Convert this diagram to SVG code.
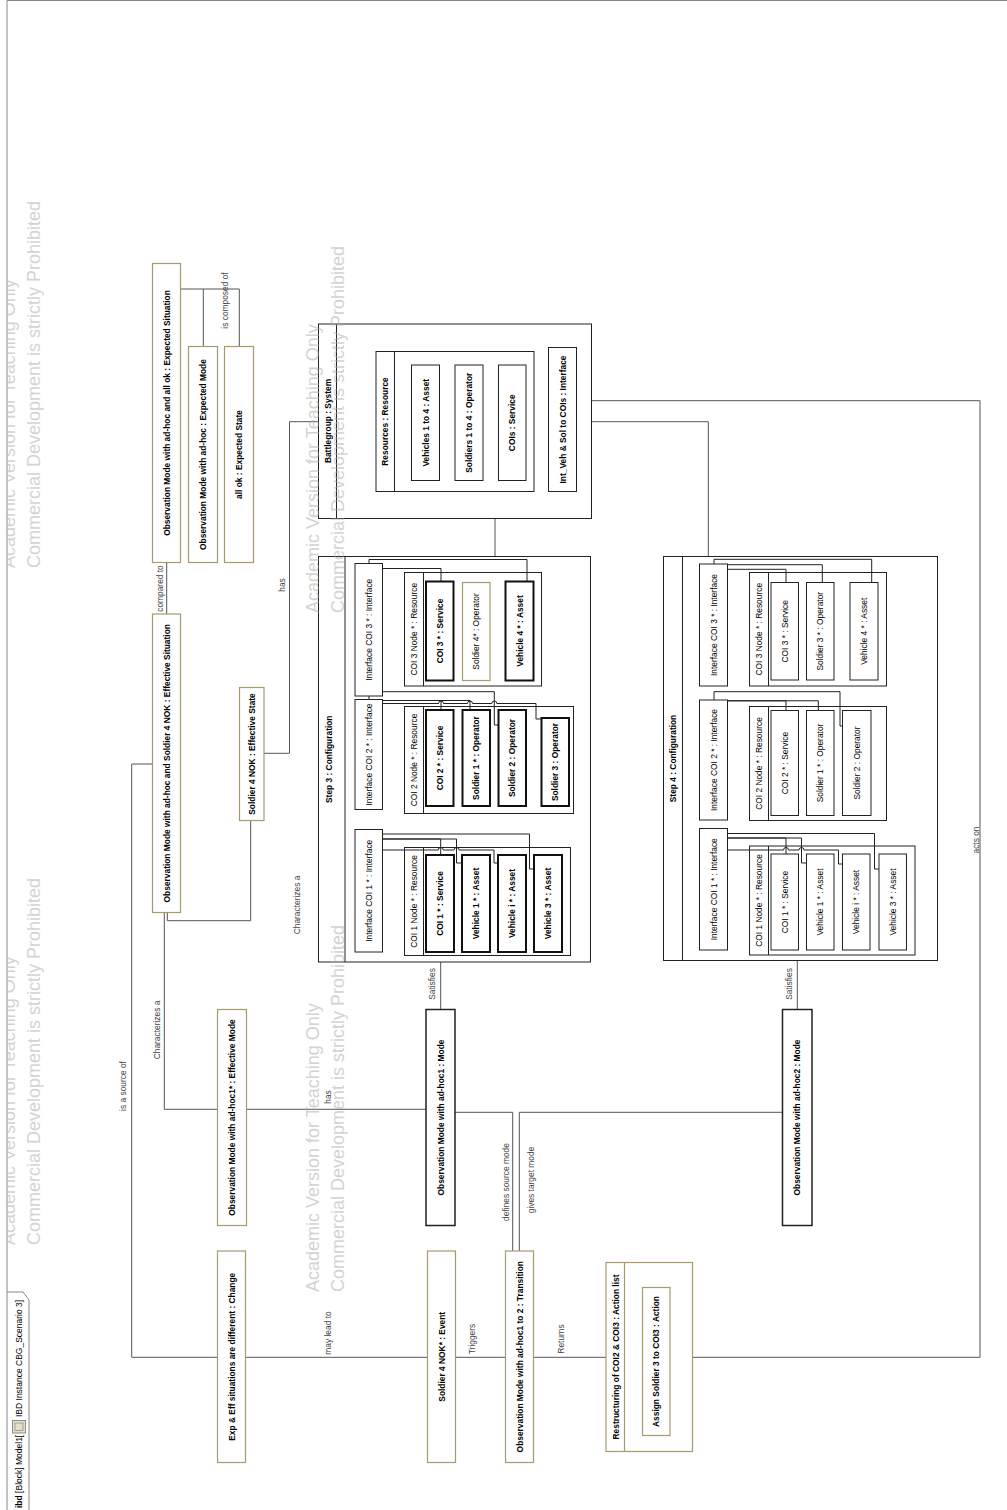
<svg xmlns="http://www.w3.org/2000/svg" width="1007" height="1510" viewBox="0 0 1007 1510">
<defs>
<style>
.t{font-family:"Liberation Sans",Arial,sans-serif;font-size:8.4px;text-anchor:middle;dominant-baseline:central;fill:#000}
.b{font-weight:bold}
.lbl{fill:#444}
.ol{fill:#fff;stroke:#a79a6c;stroke-width:1.2}
.bk{fill:#fff;stroke:#222;stroke-width:1}
.bx{fill:none;stroke:#222;stroke-width:1}
.bb{fill:#fff;stroke:#111;stroke-width:2}
.dk{fill:#fff;stroke:#222;stroke-width:1.5}
.dv{stroke:#222;stroke-width:1;fill:none}
.c{fill:none;stroke:#555;stroke-width:1}
.ci{fill:none;stroke:#222;stroke-width:1}
.wm{font-family:"Liberation Sans",Arial,sans-serif;font-size:18px;fill:#a8a8a8;opacity:.5}
.fr{fill:none;stroke:#888;stroke-width:1}
.tt{font-family:"Liberation Sans",Arial,sans-serif;font-size:8.5px;fill:#000;dominant-baseline:central}
</style>
<clipPath id="fc"><rect x="7.5" y="0" width="1000" height="1510"/></clipPath>
</defs>
<rect x="0" y="0" width="1007" height="1510" fill="#fff"/>
<g id="frame">
<path class="fr" d="M7,1510 V0.5 H1007"/>
<path class="fr" d="M7,1292 H23 L29,1300 V1510"/>
<text class="tt" transform="translate(19,1508) rotate(-90)"><tspan font-weight="bold">ibd</tspan> [Block] Model1[</text>
<rect x="12.5" y="1420.5" width="13" height="12.5" fill="#e6e0c6" stroke="#777" stroke-width="0.8"/>
<rect x="15" y="1423" width="8" height="7.5" fill="none" stroke="#777" stroke-width="0.6"/>
<text class="tt" transform="translate(19,1417) rotate(-90)">IBD Instance CBG_Scenario 3]</text>
</g>
<g id="connectors">
<path class="c" d="M180.7,289 H239.3 V346.5"/>
<path class="c" d="M203.3,289 V346.5"/>
<path class="c" d="M166.7,562.5 V614"/>
<path class="c" d="M167.3,912.5 V920.7 H250.7 V820.5"/>
<path class="c" d="M264,753.3 H289.5 V421.7 H318.5"/>
<path class="c" d="M164.3,912.5 V1109.3 H426"/>
<path class="c" d="M152.5,764 H131.7 V1357.3 H217.5"/>
<path class="c" d="M245.5,1357.3 H427.5"/>
<path class="c" d="M455.5,1357.3 H505.5"/>
<path class="c" d="M533.5,1357.3 H606"/>
<path class="c" d="M692.5,1357.3 H980 V400.7 H591.5"/>
<path class="c" d="M495,518.5 V556.5"/>
<path class="c" d="M591.5,421.7 H708.3 V556.5"/>
<path class="c" d="M440.7,962 V1009.5"/>
<path class="c" d="M797.3,960.5 V1009.5"/>
<path class="c" d="M455,1112.3 H512.7 V1251"/>
<path class="c" d="M519.3,1251 V1112.3 H782.5"/>
<text class="t lbl" transform="translate(225,300.5) rotate(-90)">is composed of</text>
<text class="t lbl" transform="translate(159.5,588.5) rotate(-90)">compared to</text>
<text class="t lbl" transform="translate(282,585) rotate(-90)">has</text>
<text class="t lbl" transform="translate(296.5,905) rotate(-90)">Characterizes a</text>
<text class="t lbl" transform="translate(157,1030) rotate(-90)">Characterizes a</text>
<text class="t lbl" transform="translate(123.3,1086) rotate(-90)">is a source of</text>
<text class="t lbl" transform="translate(328,1097) rotate(-90)">has</text>
<text class="t lbl" transform="translate(432.3,984) rotate(-90)">Satisfies</text>
<text class="t lbl" transform="translate(789.3,984) rotate(-90)">Satisfies</text>
<text class="t lbl" transform="translate(506,1182) rotate(-90)">defines source mode</text>
<text class="t lbl" transform="translate(530.7,1180) rotate(-90)">gives target mode</text>
<text class="t lbl" transform="translate(328.3,1333) rotate(-90)">may lead to</text>
<text class="t lbl" transform="translate(471.7,1339) rotate(-90)">Triggers</text>
<text class="t lbl" transform="translate(561,1339) rotate(-90)">Returns</text>
<text class="t lbl" transform="translate(976,840) rotate(-90)">acts on</text>
</g>
<g id="n-expected-situation"><rect class="ol" x="152.5" y="263.5" width="28" height="299"/><text class="t b" transform="translate(166.5,413) rotate(-90)">Observation Mode with ad-hoc and all ok : Expected Situation</text></g>
<g id="n-expected-mode"><rect class="ol" x="188.5" y="346.5" width="29" height="216"/><text class="t b" transform="translate(203,454.5) rotate(-90)">Observation Mode with ad-hoc : Expected Mode</text></g>
<g id="n-expected-state"><rect class="ol" x="224.5" y="346.5" width="29" height="216"/><text class="t b" transform="translate(239,454.5) rotate(-90)">all ok : Expected State</text></g>
<g id="n-effective-situation"><rect class="ol" x="152.5" y="614" width="28" height="298.5"/><text class="t b" transform="translate(166.5,763.25) rotate(-90)">Observation Mode with ad-hoc and Soldier 4 NOK : Effective Situation</text></g>
<g id="n-effective-state"><rect class="ol" x="239.5" y="687.5" width="24.5" height="133"/><text class="t b" transform="translate(251.75,754) rotate(-90)">Soldier 4 NOK : Effective State</text></g>
<g id="n-effective-mode"><rect class="ol" x="217.5" y="1009.5" width="29" height="216"/><text class="t b" transform="translate(232,1117.5) rotate(-90)">Observation Mode with ad-hoc1* : Effective Mode</text></g>
<g id="n-mode1"><rect class="dk" x="426" y="1009.5" width="29" height="216"/><text class="t b" transform="translate(440.5,1117.5) rotate(-90)">Observation Mode with ad-hoc1 : Mode</text></g>
<g id="n-mode2"><rect class="dk" x="782.5" y="1009.5" width="29.5" height="216"/><text class="t b" transform="translate(797.25,1117.5) rotate(-90)">Observation Mode with ad-hoc2 : Mode</text></g>
<g id="n-change"><rect class="ol" x="217.5" y="1251" width="28" height="211.5"/><text class="t b" transform="translate(231.5,1356.75) rotate(-90)">Exp &amp; Eff situations are different : Change</text></g>
<g id="n-event"><rect class="ol" x="427.5" y="1251" width="28" height="211.5"/><text class="t b" transform="translate(441.5,1356.75) rotate(-90)">Soldier 4 NOK* : Event</text></g>
<g id="n-transition"><rect class="ol" x="505.5" y="1251" width="28" height="211.5"/><text class="t b" transform="translate(519.5,1356.75) rotate(-90)">Observation Mode with ad-hoc1 to 2 : Transition</text></g>
<g id="n-action-list"><rect class="ol" x="606" y="1262.5" width="86.5" height="189"/><path d="M624.5,1262.5 V1451.5" stroke="#a79a6c" stroke-width="1.2"/><text class="t b" transform="translate(615.5,1357) rotate(-90)">Restructuring of COI2 &amp; COI3 : Action list</text>
<g id="n-action"><rect class="ol" x="642.5" y="1287.5" width="27.5" height="148"/><text class="t b" transform="translate(656.25,1361.5) rotate(-90)">Assign Soldier 3 to COI3 : Action</text></g></g>
<g id="n-battlegroup"><rect class="bx" x="318.5" y="324" width="273" height="194.5"/><path class="dv" d="M336.5,324 V518.5"/><text class="t b" transform="translate(327.5,421) rotate(-90)">Battlegroup : System</text>
<g id="n-resources"><rect class="bx" x="376" y="351.5" width="158" height="140"/><path class="dv" d="M394.5,351.5 V491.5"/><text class="t b" transform="translate(385.3,421.5) rotate(-90)">Resources : Resource</text>
<g id="n-vehicles"><rect class="bk" x="411.5" y="365" width="28" height="115.5"/><text class="t b" transform="translate(425.5,422.75) rotate(-90)">Vehicles 1 to 4 : Asset</text></g>
<g id="n-soldiers"><rect class="bk" x="455" y="365" width="28" height="115.5"/><text class="t b" transform="translate(469,422.75) rotate(-90)">Soldiers 1 to 4 : Operator</text></g>
<g id="n-cois"><rect class="bk" x="498.5" y="365" width="27.5" height="115.5"/><text class="t b" transform="translate(512.25,422.75) rotate(-90)">COIs : Service</text></g></g>
<g id="n-int-veh"><rect class="bk" x="548.5" y="347.5" width="28" height="144"/><text class="t b" transform="translate(562.5,419.5) rotate(-90)">Int_Veh &amp; Sol to COIs : Interface</text></g></g>
<g id="n-step3"><rect class="bx" x="318.5" y="556.5" width="272" height="405.5"/><path class="dv" d="M345,556.5 V962"/><text class="t b" transform="translate(328.5,759.25) rotate(-90)">Step 3 : Configuration</text>
<rect class="bx" x="404.5" y="572.5" width="137" height="113.5"/><path class="dv" d="M423.5,572.5 V686"/><text class="t" transform="translate(413.8,629.25) rotate(-90)">COI 3 Node * : Resource</text>
<rect class="bx" x="404.5" y="706.5" width="169" height="107"/><path class="dv" d="M423.5,706.5 V813.5"/><text class="t" transform="translate(413.8,760) rotate(-90)">COI 2 Node * : Resource</text>
<rect class="bx" x="404.5" y="847.5" width="166" height="108"/><path class="dv" d="M423.5,847.5 V955.5"/><text class="t" transform="translate(413.8,901.5) rotate(-90)">COI 1 Node * : Resource</text>
<g id="s3-connectors">
<path class="ci" d="M369,563.5 V559.5 H527 V581.5"/>
<path class="ci" d="M382.5,568.5 H441 V581.5"/>
<path class="ci" d="M369,699.5 V691.7 H494.3 V725 H498.5"/>
<path class="ci" d="M382.5,700.5 H441 V710"/>
<path class="ci" d="M382.5,700.5 H470 V710"/>
<path class="ci" d="M382.5,703.5 H438.5 a2.5,2.5 0 0 1 5,0 H467.5 a2.5,2.5 0 0 1 5,0 H491.8 a2.5,2.5 0 0 1 5,0 H536 V719 H541.5"/>
<path class="ci" d="M382.5,834 H529.5 V869 H534"/>
<path class="ci" d="M382.5,839 H440.7 V855"/>
<path class="ci" d="M382.5,839 H456.5 V863 H462"/>
<path class="ci" d="M382.5,850 H438.2 a2.5,2.5 0 0 1 5,0 H454 a2.5,2.5 0 0 1 5,0 H494 V863 H498"/>
</g>
<g id="s3-int-coi3"><rect class="bk" x="355" y="563.5" width="27.5" height="132.5"/><text class="t" transform="translate(368.75,629.75) rotate(-90)">Interface COI 3 * : Interface</text></g>
<g id="s3-coi3-service"><rect class="bb" x="426" y="581.5" width="27.5" height="99"/><text class="t b" transform="translate(439.75,631) rotate(-90)">COI 3 * : Service</text></g>
<g id="s3-soldier4"><rect class="ol" x="462.5" y="582.5" width="27.5" height="98"/><text class="t" transform="translate(476.25,631.5) rotate(-90)">Soldier 4* : Operator</text></g>
<g id="s3-vehicle4"><rect class="bb" x="505.5" y="581.5" width="28" height="99"/><text class="t b" transform="translate(519.5,631) rotate(-90)">Vehicle 4 * : Asset</text></g>
<g id="s3-int-coi2"><rect class="bk" x="355" y="699.5" width="27.5" height="110"/><text class="t" transform="translate(368.75,754.5) rotate(-90)">Interface COI 2 * : Interface</text></g>
<g id="s3-coi2-service"><rect class="bb" x="426" y="710" width="27.5" height="96"/><text class="t b" transform="translate(439.75,758) rotate(-90)">COI 2 * : Service</text></g>
<g id="s3-soldier1"><rect class="bb" x="462.5" y="710" width="27.5" height="96"/><text class="t b" transform="translate(476.25,758) rotate(-90)">Soldier 1 * : Operator</text></g>
<g id="s3-soldier2"><rect class="bb" x="498.5" y="710" width="27.5" height="96"/><text class="t b" transform="translate(512.25,758) rotate(-90)">Soldier 2 : Operator</text></g>
<g id="s3-soldier3"><rect class="bb" x="541.5" y="718" width="27.5" height="88"/><text class="t b" transform="translate(555.25,762) rotate(-90)">Soldier 3 : Operator</text></g>
<g id="s3-int-coi1"><rect class="bk" x="355" y="829.5" width="27.5" height="122.5"/><text class="t" transform="translate(368.75,890.75) rotate(-90)">Interface COI 1 * : Interface</text></g>
<g id="s3-coi1-service"><rect class="bb" x="426" y="855" width="28" height="97"/><text class="t b" transform="translate(440,903.5) rotate(-90)">COI 1 * : Service</text></g>
<g id="s3-vehicle1"><rect class="bb" x="462" y="855" width="28" height="97"/><text class="t b" transform="translate(476,903.5) rotate(-90)">Vehicle 1 * : Asset</text></g>
<g id="s3-vehiclei"><rect class="bb" x="498" y="855" width="28" height="97"/><text class="t b" transform="translate(512,903.5) rotate(-90)">Vehicle i * : Asset</text></g>
<g id="s3-vehicle3"><rect class="bb" x="534" y="855" width="28" height="97"/><text class="t b" transform="translate(548,903.5) rotate(-90)">Vehicle 3 * : Asset</text></g>
</g>
<g id="n-step4"><rect class="bx" x="663.5" y="556.5" width="274" height="404"/><path class="dv" d="M682.5,556.5 V960.5"/><text class="t b" transform="translate(673.3,758.5) rotate(-90)">Step 4 : Configuration</text>
<rect class="bx" x="749.5" y="572.5" width="137" height="113.5"/><path class="dv" d="M768.5,572.5 V686"/><text class="t" transform="translate(758.5,629.25) rotate(-90)">COI 3 Node * : Resource</text>
<rect class="bx" x="749.5" y="706.5" width="137" height="114"/><path class="dv" d="M768.5,706.5 V820.5"/><text class="t" transform="translate(758.5,763.5) rotate(-90)">COI 2 Node * : Resource</text>
<rect class="bx" x="749.5" y="846" width="165.5" height="109"/><path class="dv" d="M768.5,846 V955"/><text class="t" transform="translate(758.5,900.5) rotate(-90)">COI 1 Node * : Resource</text>
<g id="s4-connectors">
<path class="ci" d="M714,564 V559.3 H871.7 V582.5"/>
<path class="ci" d="M727.5,564.7 H822.3 V582.5"/>
<path class="ci" d="M727.5,569.3 H786 V582.5"/>
<path class="ci" d="M714,700 V691.7 H840 V726 H842.5"/>
<path class="ci" d="M727.5,700.8 H786 V710.5"/>
<path class="ci" d="M727.5,700.8 H818.3 V710.5"/>
<path class="ci" d="M727.5,833.5 H874.5 V869 H879"/>
<path class="ci" d="M727.5,838 H786 V854"/>
<path class="ci" d="M727.5,838 H801.5 V863 H806.5"/>
<path class="ci" d="M727.5,850 H783.5 a2.5,2.5 0 0 1 5,0 H799 a2.5,2.5 0 0 1 5,0 H838.5 V864 H842.5"/>
</g>
<g id="s4-int-coi3"><rect class="bk" x="699.5" y="564" width="28" height="122"/><text class="t" transform="translate(713.5,625) rotate(-90)">Interface COI 3 * : Interface</text></g>
<g id="s4-coi3-service"><rect class="bk" x="771" y="582.5" width="27.5" height="97.5"/><text class="t" transform="translate(784.75,631.25) rotate(-90)">COI 3 * : Service</text></g>
<g id="s4-soldier3"><rect class="bk" x="806.5" y="582.5" width="27.5" height="97.5"/><text class="t" transform="translate(820.25,631.25) rotate(-90)">Soldier 3 * : Operator</text></g>
<g id="s4-vehicle4"><rect class="bk" x="850" y="582.5" width="28" height="97.5"/><text class="t" transform="translate(864,631.25) rotate(-90)">Vehicle 4 * : Asset</text></g>
<g id="s4-int-coi2"><rect class="bk" x="699.5" y="700" width="28" height="120"/><text class="t" transform="translate(713.5,760) rotate(-90)">Interface COI 2 * : Interface</text></g>
<g id="s4-coi2-service"><rect class="bk" x="771" y="710.5" width="27.5" height="105"/><text class="t" transform="translate(784.75,763) rotate(-90)">COI 2 * : Service</text></g>
<g id="s4-soldier1"><rect class="bk" x="806.5" y="710.5" width="27.5" height="105"/><text class="t" transform="translate(820.25,763) rotate(-90)">Soldier 1 * : Operator</text></g>
<g id="s4-soldier2"><rect class="bk" x="842.5" y="710.5" width="28.5" height="105"/><text class="t" transform="translate(856.75,763) rotate(-90)">Soldier 2 : Operator</text></g>
<g id="s4-int-coi1"><rect class="bk" x="699.5" y="828.5" width="28" height="121.5"/><text class="t" transform="translate(713.5,889.25) rotate(-90)">Interface COI 1 * : Interface</text></g>
<g id="s4-coi1-service"><rect class="bk" x="771" y="854" width="27.5" height="96"/><text class="t" transform="translate(784.75,902) rotate(-90)">COI 1 * : Service</text></g>
<g id="s4-vehicle1"><rect class="bk" x="806.5" y="854" width="27.5" height="96"/><text class="t" transform="translate(820.25,902) rotate(-90)">Vehicle 1 * : Asset</text></g>
<g id="s4-vehiclei"><rect class="bk" x="842.5" y="854" width="27.5" height="96"/><text class="t" transform="translate(856.25,902) rotate(-90)">Vehicle i * : Asset</text></g>
<g id="s4-vehicle3"><rect class="bk" x="879" y="854" width="27.5" height="96"/><text class="t" transform="translate(892.75,902) rotate(-90)">Vehicle 3 * : Asset</text></g>
</g>
<g id="watermarks" clip-path="url(#fc)">
<text class="wm" transform="translate(15,568) rotate(-90)">Academic Version for Teaching Only</text>
<text class="wm" transform="translate(40,568) rotate(-90)">Commercial Development is strictly Prohibited</text>
<text class="wm" transform="translate(15,1245) rotate(-90)">Academic Version for Teaching Only</text>
<text class="wm" transform="translate(40,1245) rotate(-90)">Commercial Development is strictly Prohibited</text>
<text class="wm" transform="translate(319,613) rotate(-90)">Academic Version for Teaching Only</text>
<text class="wm" transform="translate(344,613) rotate(-90)">Commercial Development is strictly Prohibited</text>
<text class="wm" transform="translate(319,1292) rotate(-90)">Academic Version for Teaching Only</text>
<text class="wm" transform="translate(344,1292) rotate(-90)">Commercial Development is strictly Prohibited</text>
</g>
</svg>
